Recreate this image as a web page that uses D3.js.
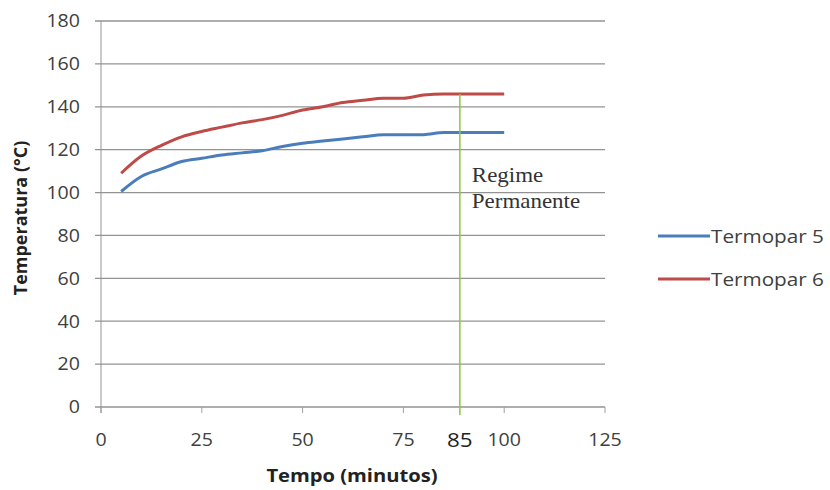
<!doctype html>
<html>
<head>
<meta charset="utf-8">
<script src="https://d3js.org/d3.v7.min.js"></script>
<style>
  body { margin: 0; background: #fff; }
  text { font-family: "Open Sans", "Liberation Sans", sans-serif; }
</style>
</head>
<body>
<svg width="830" height="490"></svg>
<script>
// tempo (minutos)
var tempo = [5, 10, 15, 20, 25, 30, 35, 40, 45, 50, 55, 60, 65, 70, 75, 80, 85, 90, 95, 100];
var termopar5 = [100.5, 107.5, 111, 114.5, 116, 117.5, 118.5, 119.5, 121.5, 123, 124, 125, 126, 127, 127, 127, 128, 128, 128, 128];
var termopar6 = [109, 117, 122, 126, 128.5, 130.5, 132.5, 134, 136, 138.5, 140, 142, 143, 144, 144, 145.5, 146, 146, 146, 146];
var seriesNames = ["Termopar 5", "Termopar 6"];
var seriesColors = ["#4a7ebb", "#be4b48"];
var xTicks = [0, 25, 50, 75, 100, 125];
var yTicks = [0, 20, 40, 60, 80, 100, 120, 140, 160, 180];
var regimeX = 89; // position of the green marker line
var regimeTop = 146;

var stretch = 1.12; // picture is a bit wider than tall
var svg = d3.select("svg");
var margin = {left: 101, top: 21, right: 225, bottom: 83};
var width = 830 - margin.left - margin.right;
var height = 490 - margin.top - margin.bottom;

var x = d3.scaleLinear().domain([0, 125]).range([0, width]);
var y = d3.scaleLinear().domain([0, 180]).range([height, 0]);

var g = svg.append("g")
    .attr("transform", "translate(" + margin.left + "," + margin.top + ")");

// text placed at (px,py) and squeezed wider
function label(parent, px, py, str) {
  return parent.append("g")
      .attr("transform", "translate(" + px + "," + py + ") scale(" + stretch + ",1)")
    .append("text")
      .text(str);
}

// horizontal gridlines
g.selectAll(".grid")
    .data(yTicks)
    .enter().append("line")
    .attr("x1", -6).attr("x2", width)
    .attr("y1", function(d) { return y(d); })
    .attr("y2", function(d) { return y(d); })
    .attr("stroke", "#939393")
    .attr("stroke-width", 1.3);

// y axis line
g.append("line")
    .attr("x1", 0).attr("x2", 0)
    .attr("y1", 0).attr("y2", height + 6)
    .attr("stroke", "#939393");

// x tick marks
g.selectAll(".xtick")
    .data(xTicks)
    .enter().append("line")
    .attr("x1", function(d) { return x(d); })
    .attr("x2", function(d) { return x(d); })
    .attr("y1", height).attr("y2", height + 6)
    .attr("stroke", "#a0a0a0");

// y labels
yTicks.forEach(function(d) {
  label(g, -21, y(d), d)
      .attr("dy", "0.36em")
      .attr("text-anchor", "end")
      .attr("fill", "#404040")
      .style("font-size", "17.5px");
});

// x labels
xTicks.forEach(function(d) {
  label(g, x(d), height + 39, d)
      .attr("text-anchor", "middle")
      .attr("fill", "#404040")
      .style("font-size", "17.5px");
});

// lines
var line = d3.line()
    .x(function(d, i) { return x(tempo[i]); })
    .y(function(d) { return y(d); })
    .curve(d3.curveMonotoneX);

[termopar5, termopar6].forEach(function(s, i) {
  g.append("path")
      .datum(s)
      .attr("d", line)
      .attr("fill", "none")
      .attr("stroke", seriesColors[i])
      .attr("stroke-width", 3);
});

// regime permanente marker
g.append("line")
    .attr("x1", x(regimeX)).attr("x2", x(regimeX))
    .attr("y1", y(regimeTop)).attr("y2", height + 8)
    .attr("stroke", "#8cc63f")
    .attr("stroke-width", 1.5);

label(g, x(regimeX), height + 40, "85")
    .attr("text-anchor", "middle")
    .attr("fill", "#222")
    .style("font-size", "20px");

label(g, x(regimeX) + 12, 161, "Regime")
    .attr("fill", "#333")
    .style("font-family", "'Liberation Serif', serif")
    .style("font-size", "20.5px");
label(g, x(regimeX) + 12, 187, "Permanente")
    .attr("fill", "#333")
    .style("font-family", "'Liberation Serif', serif")
    .style("font-size", "20.5px");

// axis titles
label(svg, margin.left + 251, 482, "Tempo (minutos)")
    .attr("text-anchor", "middle")
    .attr("fill", "#222")
    .style("font-size", "18px")
    .style("font-weight", "bold");

svg.append("text")
    .attr("transform", "translate(27," + (margin.top + height / 2 + 4) + ") rotate(-90)")
    .attr("text-anchor", "middle")
    .attr("fill", "#222")
    .style("font-size", "18px")
    .style("font-weight", "bold")
    .text("Temperatura (°C)");

// legend
var legend = svg.selectAll(".legend")
    .data(seriesNames)
    .enter().append("g")
    .attr("transform", function(d, i) { return "translate(658," + (236 + i * 43) + ")"; });

legend.append("line")
    .attr("x1", 0).attr("x2", 52)
    .attr("stroke", function(d, i) { return seriesColors[i]; })
    .attr("stroke-width", 3);

legend.each(function(d) {
  label(d3.select(this), 53, 0, d)
      .attr("dy", "0.36em")
      .attr("fill", "#404040")
      .style("font-size", "18.5px");
});
</script>
</body>
</html>
